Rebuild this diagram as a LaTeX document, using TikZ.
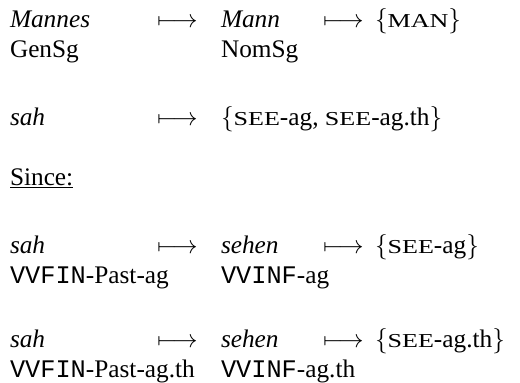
\documentclass[tikz,border=0pt]{standalone}
\usepackage{fix-cm}
\usepackage{graphicx}
\usepackage{fontspec}
\setmainfont{Liberation Serif}
\setmonofont{Liberation Mono}
% small capitals, imitated by capitals squeezed to small-cap height
\newcommand\smcap[1]{\scalebox{1.03}[0.78]{#1}}
\newcommand\tagtt[1]{{\ttfamily #1}}
\begin{document}
\begin{tikzpicture}[x=1pt,y=-1pt,
  txt/.style={anchor=base west, inner sep=0pt, outer sep=0pt,
              font=\fontsize{25.3}{30}\selectfont}]
\useasboundingbox (0,0) rectangle (520,383);

% tab stops
\def\ca{10}\def\aa{157}\def\cb{221}\def\ab{323}\def\cc{375}

% Mannes -> Mann -> {MAN}
\node[txt] (mannes) at (\ca,27) {\itshape Mannes};
\node[txt] (gensg)  at (\ca,57) {GenSg};
\node[txt] (arA1)   at (\aa,27) {$\longmapsto$};
\node[txt] (mann)   at (\cb,27) {\itshape Mann};
\node[txt] (nomsg)  at (\cb,57) {NomSg};
\node[txt] (arA2)   at (\ab,27) {$\longmapsto$};
\node[txt] (man)    at (\cc,27) {$\{$\smcap{MAN}$\}$};

% sah -> {SEE-ag, SEE-ag.th}
\node[txt] (sahB)   at (\ca,125) {\itshape sah};
\node[txt] (arB1)   at (\aa,125) {$\longmapsto$};
\node[txt] (setB)   at (\cb,125) {$\{$\smcap{SEE}-ag, \smcap{SEE}-ag.th$\}$};

\node[txt] (since)  at (\ca,185) {\underline{Since:}};

% sah -> sehen -> {SEE-ag}
\node[txt] (sahC)   at (\ca,253) {\itshape sah};
\node[txt] (catC1)  at (\ca,283) {\tagtt{VVFIN}-Past-ag};
\node[txt] (arC1)   at (\aa,253) {$\longmapsto$};
\node[txt] (sehenC) at (\cb,253) {\itshape sehen};
\node[txt] (catC2)  at (\cb,283) {\tagtt{VVINF}-ag};
\node[txt] (arC2)   at (\ab,253) {$\longmapsto$};
\node[txt] (setC)   at (\cc,253) {$\{$\smcap{SEE}-ag$\}$};

% sah -> sehen -> {SEE-ag.th}
\node[txt] (sahD)   at (\ca,347) {\itshape sah};
\node[txt] (catD1)  at (\ca,377) {\tagtt{VVFIN}-Past-ag.th};
\node[txt] (arD1)   at (\aa,347) {$\longmapsto$};
\node[txt] (sehenD) at (\cb,347) {\itshape sehen};
\node[txt] (catD2)  at (\cb,377) {\tagtt{VVINF}-ag.th};
\node[txt] (arD2)   at (\ab,347) {$\longmapsto$};
\node[txt] (setD)   at (\cc,347) {$\{$\smcap{SEE}-ag.th$\}$};
\end{tikzpicture}
\end{document}
